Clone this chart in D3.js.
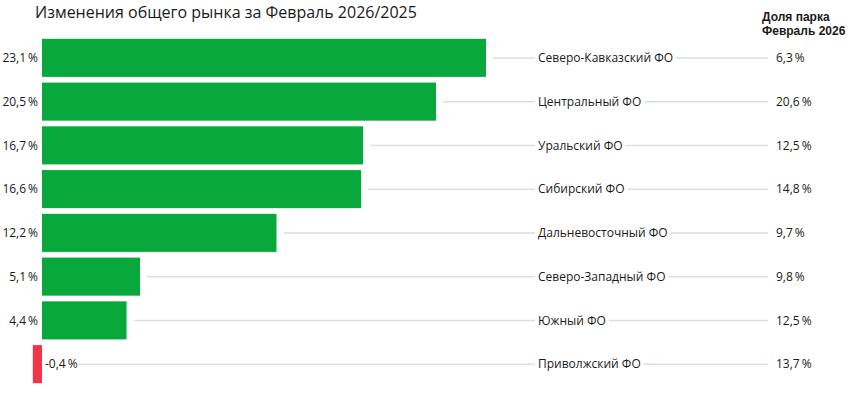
<!DOCTYPE html>
<html>
<head>
<meta charset="utf-8">
<script src="https://cdn.jsdelivr.net/npm/d3@7"></script>
<style>
  body { margin: 0; background: #fff; }
  text { font-family: "Open Sans", "Noto Sans", sans-serif; fill: #1a1a1a; }
</style>
</head>
<body>
<div id="chart"></div>
<script>
const width = 850, height = 393;

// data
const regions = ["Северо-Кавказский ФО", "Центральный ФО", "Уральский ФО", "Сибирский ФО",
  "Дальневосточный ФО", "Северо-Западный ФО", "Южный ФО", "Приволжский ФО"];
const change = [23.1, 20.5, 16.7, 16.6, 12.2, 5.1, 4.4, -0.4];
const share = [6.3, 20.6, 12.5, 14.8, 9.7, 9.8, 12.5, 13.7];
const headerLines = ["Доля парка", "Февраль 2026"];

const fmt = v => String(v.toFixed(1)).replace(".", ",") + "\u2009%";

let svg = d3.select("#chart")
  .append("svg")
  .attr("width", width)
  .attr("height", height);

let x = d3.scaleLinear()
  .domain([0, 23.1])
  .range([42, 486]);

let y = d3.scaleBand()
  .domain(regions)
  .range([36, 386])
  .paddingInner(0.13)
  .paddingOuter(0.065);

const lineEnd = 768;
const labelX = 538;

// title
svg.append("text")
  .attr("x", 35)
  .attr("y", 18)
  .style("font-size", "16px")
  .text("Изменения общего рынка за Февраль 2026/2025");

// column header
svg.selectAll("text.header")
  .data(headerLines)
  .enter()
  .append("text")
  .attr("class", "header")
  .attr("x", 762)
  .attr("y", (d, i) => 21 + i * 14)
  .style("font-family", "'Liberation Sans', Arial, sans-serif")
  .style("font-size", "12px")
  .style("font-weight", "bold")
  .text(d => d);

let rows = svg.selectAll("g.row")
  .data(regions)
  .enter()
  .append("g")
  .attr("class", "row");

// guide lines
rows.append("line")
  .attr("x1", (d, i) => change[i] < 0 ? 78 : x(change[i]) + 7)
  .attr("x2", lineEnd)
  .attr("y1", d => y(d) + y.bandwidth() / 2)
  .attr("y2", d => y(d) + y.bandwidth() / 2)
  .attr("stroke", "#dedede")
  .attr("stroke-width", 1.5);

// bars
rows.append("rect")
  .attr("x", (d, i) => Math.min(x(0), x(change[i])) - (change[i] < 0 ? 1.5 : 0))
  .attr("y", d => y(d))
  .attr("width", (d, i) => Math.abs(x(change[i]) - x(0)) + (change[i] < 0 ? 1.5 : 0))
  .attr("height", d => y.bandwidth())
  .attr("fill", (d, i) => change[i] < 0 ? "#f4344a" : "#09a83c");

// value labels
rows.append("text")
  .attr("x", (d, i) => change[i] < 0 ? x(0) + 3 : x(0) - 4)
  .attr("y", d => y(d) + y.bandwidth() / 2)
  .attr("dy", "0.35em")
  .attr("text-anchor", (d, i) => change[i] < 0 ? "start" : "end")
  .style("font-size", "12px")
  .text((d, i) => fmt(change[i]));

// region labels with white backing to break the guide line
rows.each(function(d, i) {
  let g = d3.select(this);
  let t = g.append("text")
    .attr("x", labelX)
    .attr("y", y(d) + y.bandwidth() / 2)
    .attr("dy", "0.35em")
    .style("font-size", "12px")
    .text(d);
  let bb = t.node().getBBox();
  g.insert("rect", "text")
    .attr("x", bb.x - 3)
    .attr("y", bb.y)
    .attr("width", bb.width + 6)
    .attr("height", bb.height)
    .attr("fill", "#fff");
});

// share labels
rows.append("text")
  .attr("x", 776)
  .attr("y", d => y(d) + y.bandwidth() / 2)
  .attr("dy", "0.35em")
  .style("font-size", "12px")
  .text((d, i) => fmt(share[i]));
</script>
</body>
</html>
